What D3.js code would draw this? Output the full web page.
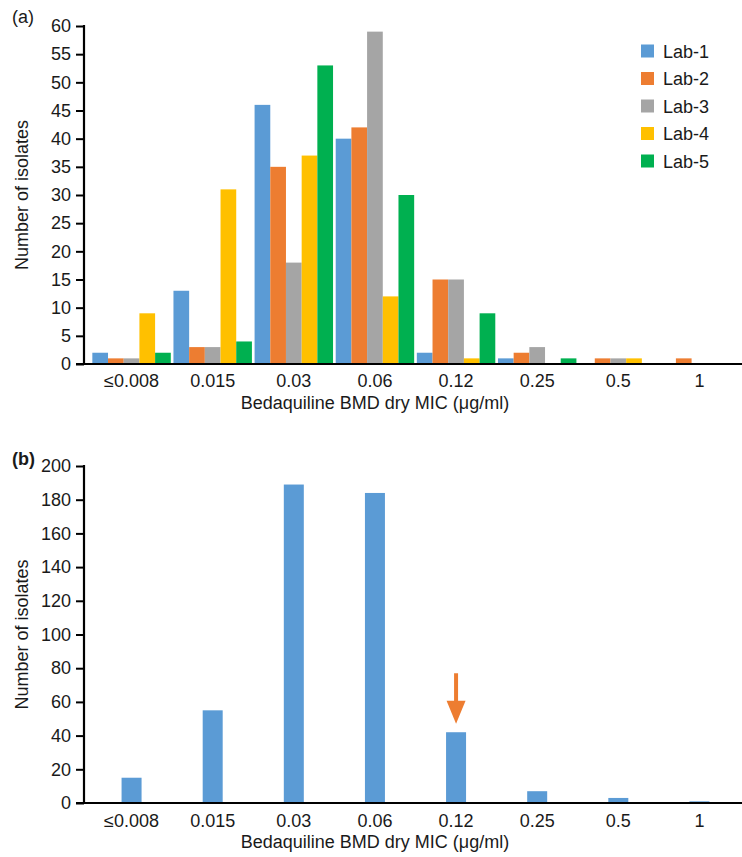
<!DOCTYPE html>
<html>
<head>
<meta charset="utf-8">
<script src="https://cdn.jsdelivr.net/npm/d3@7"></script>
<style>
  html, body { margin: 0; padding: 0; background: #fff; }
  svg { display: block; font-family: "Liberation Sans", Arial, sans-serif; }
</style>
</head>
<body>
<svg id="chart" width="742" height="857"></svg>
<script>
// ---- data ----
const categories = ["≤0.008", "0.015", "0.03", "0.06", "0.12", "0.25", "0.5", "1"];
const labs = ["Lab-1", "Lab-2", "Lab-3", "Lab-4", "Lab-5"];
const lab1 = [2, 13, 46, 40, 2, 1, 0, 0];
const lab2 = [1, 3, 35, 42, 15, 2, 1, 1];
const lab3 = [1, 3, 18, 59, 15, 3, 1, 0];
const lab4 = [9, 31, 37, 12, 1, 0, 1, 0];
const lab5 = [2, 4, 53, 30, 9, 1, 0, 0];
const totals = [15, 55, 189, 184, 42, 7, 3, 1];
const labColors = ["#5B9BD5", "#ED7D31", "#A5A5A5", "#FFC000", "#00B050"];
const ticksA = [0, 5, 10, 15, 20, 25, 30, 35, 40, 45, 50, 55, 60];
const ticksB = [0, 20, 40, 60, 80, 100, 120, 140, 160, 180, 200];
const arrowCategory = "0.12";
const arrowFrom = 77;
const arrowTo = 47;
const xTitle = "Bedaquiline BMD dry MIC (μg/ml)";
const yTitle = "Number of isolates";

const labSeries = [lab1, lab2, lab3, lab4, lab5];

const svg = d3.select("#chart");
const FS = 18;

// shared x layout
const axisX0 = 84, axisX1 = 742;
const x = d3.scaleBand().domain(categories).range([91, 740]).paddingInner(0).paddingOuter(0);

function drawAxes(g, y, ticks, top, bottom, titleBaseline, tickBaseline) {
  // y axis
  const yAxis = d3.axisLeft(y).tickValues(ticks).tickSize(8).tickPadding(5);
  const ga = g.append("g").attr("transform", `translate(${axisX0},0)`).call(yAxis);
  ga.select(".domain").remove();
  ga.selectAll(".tick line").attr("stroke", "#000").attr("stroke-width", 2);
  ga.selectAll(".tick text").attr("font-size", FS).attr("fill", "#1a1a1a")
    .attr("font-family", "Liberation Sans, Arial, sans-serif");
  g.append("line").attr("x1", axisX0).attr("x2", axisX0)
    .attr("y1", y(ticks[ticks.length - 1]) - 1).attr("y2", y(0) + 1)
    .attr("stroke", "#000").attr("stroke-width", 2.2);
  // x axis
  g.append("line").attr("x1", axisX0 - 8).attr("x2", axisX1)
    .attr("y1", y(0)).attr("y2", y(0))
    .attr("stroke", "#000").attr("stroke-width", 2.2);
  g.selectAll(".xlab").data(categories).enter().append("text")
    .attr("x", d => x(d) + x.bandwidth() / 2)
    .attr("y", tickBaseline)
    .attr("text-anchor", "middle").attr("font-size", FS).attr("fill", "#1a1a1a")
    .text(d => d);
  g.append("text").attr("x", 375).attr("y", titleBaseline)
    .attr("text-anchor", "middle").attr("font-size", FS).attr("fill", "#1a1a1a")
    .text(xTitle);
  const cy = (top + bottom) / 2;
  g.append("text").attr("transform", `translate(28,${cy}) rotate(-90)`)
    .attr("text-anchor", "middle").attr("font-size", FS).attr("fill", "#1a1a1a")
    .text(yTitle);
}

// ---- panel (a) ----
const gA = svg.append("g");
const yA = d3.scaleLinear().domain([0, 60]).range([364, 26]);
const inner = d3.scaleBand().domain(labs).range([0, x.bandwidth()]).paddingOuter(0.085).paddingInner(0);

labSeries.forEach((vals, li) => {
  gA.selectAll(".barA" + li).data(vals).enter().append("rect")
    .attr("x", (d, i) => x(categories[i]) + inner(labs[li]))
    .attr("width", inner.bandwidth())
    .attr("y", d => yA(d))
    .attr("height", d => yA(0) - yA(d))
    .attr("fill", labColors[li]);
});
drawAxes(gA, yA, ticksA, 26, 364, 408.5, 387);

gA.append("text").attr("x", 12).attr("y", 23).attr("font-size", FS).attr("fill", "#1a1a1a").text("(a)");

// legend
const leg = gA.append("g");
labs.forEach((l, i) => {
  const cy = 51 + i * 27.5;
  leg.append("rect").attr("x", 641).attr("y", cy - 6.5).attr("width", 13).attr("height", 13).attr("fill", labColors[i]);
  leg.append("text").attr("x", 663).attr("y", cy + 6.5).attr("font-size", FS).attr("fill", "#1a1a1a").text(l);
});

// ---- panel (b) ----
const gB = svg.append("g");
const yB = d3.scaleLinear().domain([0, 200]).range([803, 466]);
const bw = 20;
gB.selectAll(".barB").data(totals).enter().append("rect")
  .attr("x", (d, i) => x(categories[i]) + x.bandwidth() / 2 - bw / 2)
  .attr("width", bw)
  .attr("y", d => yB(d))
  .attr("height", d => yB(0) - yB(d))
  .attr("fill", labColors[0]);
drawAxes(gB, yB, ticksB, 466, 803, 848, 826.5);

gB.append("text").attr("x", 12).attr("y", 465).attr("font-size", FS).attr("font-weight", "bold").attr("fill", "#1a1a1a").text("(b)");

// arrow
const ax = x(arrowCategory) + x.bandwidth() / 2;
const yStart = yB(arrowFrom), yTip = yB(arrowTo);
const headH = 23, headW = 19;
gB.append("line").attr("x1", ax).attr("x2", ax).attr("y1", yStart).attr("y2", yTip - headH + 2)
  .attr("stroke", "#ED7D31").attr("stroke-width", 4);
gB.append("path")
  .attr("d", `M${ax - headW / 2},${yTip - headH} L${ax + headW / 2},${yTip - headH} L${ax},${yTip} Z`)
  .attr("fill", "#ED7D31");
</script>
</body>
</html>
